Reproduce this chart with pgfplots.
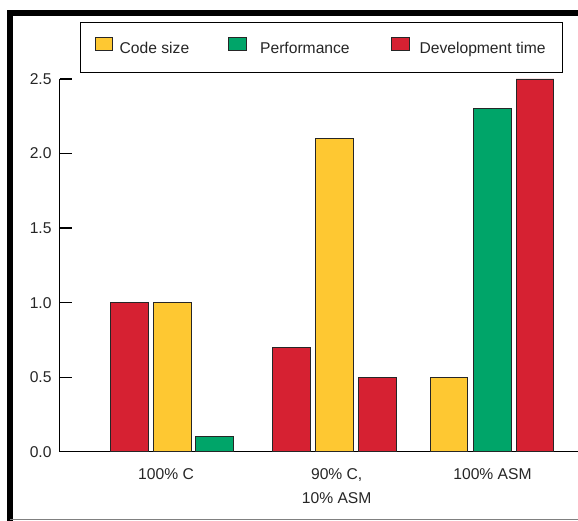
\documentclass[border=0pt]{standalone}
\usepackage{pgfplots}
\pgfplotsset{compat=1.18}
\usepackage{fontspec}
\setmainfont{Liberation Sans}
\definecolor{cyel}{RGB}{254,200,50}
\definecolor{cgrn}{RGB}{0,165,105}
\definecolor{cred}{RGB}{214,33,50}
\newcommand{\ff}{\fontsize{15.7}{24.5}\selectfont}
\begin{document}
\begin{tikzpicture}[x=1bp,y=1bp]
\ff
\begin{axis}[
  at={(59.5bp,69.3bp)}, anchor=south west,
  scale only axis, width=518.5bp, height=372.7bp,
  xmin=59.5, xmax=578, ymin=0, ymax=2.5,
  axis x line*=bottom, axis y line*=left,
  axis line style={line width=1.3bp, black},
  ytick={0,0.5,1,1.5,2,2.5},
  /pgf/number format/assume math mode=true,
  yticklabel style={/pgf/number format/.cd, fixed, fixed zerofill, precision=1, /tikz/.cd, font=\ff, inner sep=0pt, anchor=east, xshift=-7.8bp, text=black!85},
  tick align=inside, major tick length=12bp,
  ytick style={line width=1.2bp, black},
  xtick={166,336.7,492.5},
  xticklabels={100\% C, {90\% C,\\10\% ASM}, 100\% ASM},
  xtick style={draw=none},
  xticklabel style={font=\ff, align=center, anchor=north, inner sep=0pt, yshift=-16.5bp, text=black!85},
  clip=false,
  legend columns=3,
  legend style={at={(0.03954,1.1537)}, anchor=north west, draw=black, line width=1bp,
    inner xsep=14bp, inner ysep=15bp, font=\ff, text=black!85,
    /tikz/column sep=0pt,
    nodes={inner sep=0pt, text height=11.3bp, text depth=3.3bp}},
]
\addplot[ybar, bar width=37.8, bar shift=0pt, fill=cred, draw=black!85, line width=0.9bp, forget plot]
  coordinates {(129.35,1.0) (291.65,0.7) (377.35,0.5) (535,2.5)};
\addplot[ybar, bar width=37.8, bar shift=0pt, fill=cyel, draw=black!85, line width=0.9bp, forget plot]
  coordinates {(172.2,1.0) (334.5,2.1) (449,0.5)};
\addplot[ybar, bar width=37.8, bar shift=0pt, fill=cgrn, draw=black!85, line width=0.9bp, forget plot]
  coordinates {(214.8,0.1) (492.15,2.3)};
\addlegendimage{legend image code/.code={\draw[fill=cyel,draw=black!85,line width=0.9bp] (0bp,-0.3bp) rectangle (17.7bp,12.3bp);}}
\addlegendentry{\rule{6.6bp}{0pt}Code size\rule{39bp}{0pt}}
\addlegendimage{legend image code/.code={\draw[fill=cgrn,draw=black!85,line width=0.9bp] (0bp,-0.3bp) rectangle (17.7bp,12.3bp);}}
\addlegendentry{\rule{13.3bp}{0pt}Performance\rule{41.3bp}{0pt}}
\addlegendimage{legend image code/.code={\draw[fill=cred,draw=black!85,line width=0.9bp] (0bp,-0.3bp) rectangle (17.7bp,12.3bp);}}
\addlegendentry{\rule{10bp}{0pt}Development time\rule{2.7bp}{0pt}}
\end{axis}
\draw[line width=5.5bp, line join=miter] (10bp,0bp) -- (10bp,508bp) -- (578bp,508bp);
\draw[gray, line width=1.2bp] (10bp,1.5bp) -- (578bp,1.5bp);
\pgfresetboundingbox
\path[use as bounding box] (0bp,0bp) rectangle (578bp,521bp);
\end{tikzpicture}
\end{document}
